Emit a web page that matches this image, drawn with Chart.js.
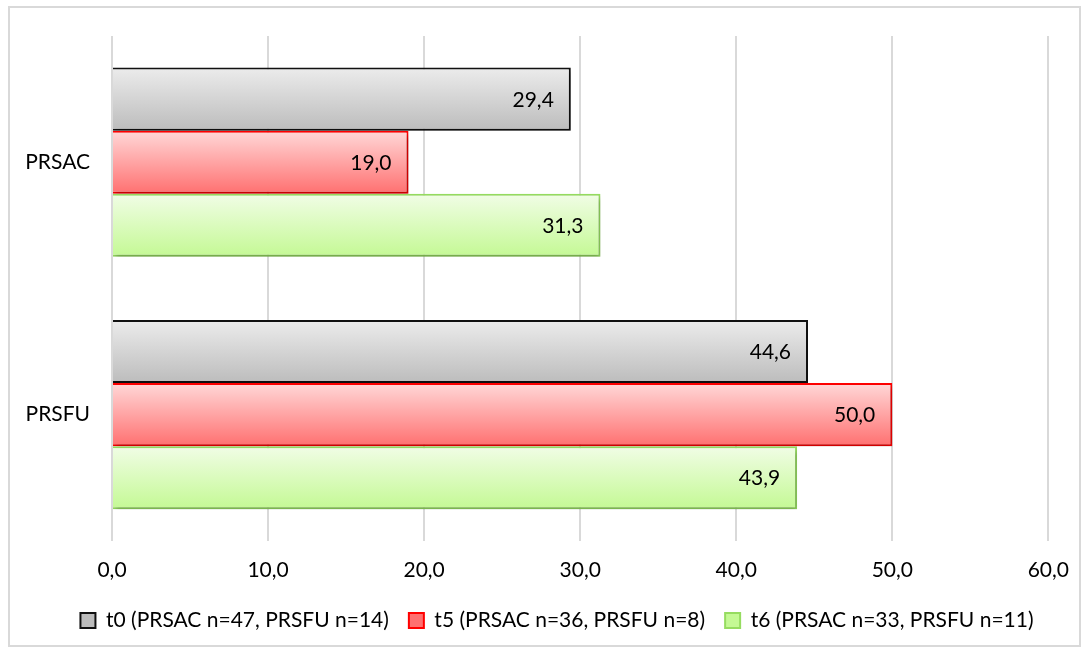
<!DOCTYPE html>
<html><head><meta charset="utf-8">
<script src="https://cdn.jsdelivr.net/npm/chart.js@4"></script>
<style>
html,body{margin:0;padding:0;background:#fff;}
#wrap{position:relative;width:1086px;height:653px;}
#frame{position:absolute;left:8px;top:6px;width:1073px;height:641px;border:2px solid #d9d9d9;box-sizing:border-box;pointer-events:none;}
canvas{display:block;}
</style></head>
<body><div id="wrap"><canvas id="c" width="1086" height="653"></canvas><div id="frame"></div></div>
<script>
const categories = ['PRSAC', 'PRSFU'];
const seriesNames = ['t0 (PRSAC n=47, PRSFU n=14)', 't5 (PRSAC n=36, PRSFU n=8)', 't6 (PRSAC n=33, PRSFU n=11)'];
const t0Values = [29.4, 44.6];
const t5Values = [19.0, 50.0];
const t6Values = [31.3, 43.9];
const xTicks = [0, 10, 20, 30, 40, 50, 60];

const FONT = 'Lato';
const FS = 21;
const fmt = v => v.toFixed(1).replace('.', ',');

function grad(top, bottom, solid) {
  return function (ctx) {
    const chart = ctx.chart;
    if (ctx.type !== 'data' || !chart.chartArea || !chart.scales.y) return solid;
    const y = chart.scales.y;
    const band = (y.bottom - y.top) / categories.length;
    const center = y.getPixelForValue(ctx.dataIndex);
    const thick = band * 0.75 / 3;
    const y0 = center - band * 0.75 / 2 + ctx.datasetIndex * thick;
    const g = chart.ctx.createLinearGradient(0, y0, 0, y0 + thick);
    g.addColorStop(0, top);
    g.addColorStop(1, bottom);
    return g;
  };
}

const shadowPlugin = {
  id: 'shadow',
  afterLayout(chart) {
    if (chart.legend) { chart.legend.left += 31; chart.legend.right += 31; }
  },
  beforeDatasetsDraw(chart) {
    const c = chart.ctx;
    c.save();
    c.shadowColor = 'rgba(0,0,0,0.28)';
    c.shadowBlur = 5;
    c.shadowOffsetX = 2;
    c.shadowOffsetY = 3;
  },
  afterDatasetsDraw(chart) {
    const c = chart.ctx;
    c.restore();
    c.save();
    c.font = FS + 'px ' + FONT;
    c.fillStyle = '#000';
    c.textAlign = 'right';
    c.textBaseline = 'middle';
    chart.data.datasets.forEach((ds, i) => {
      const meta = chart.getDatasetMeta(i);
      meta.data.forEach((el, j) => {
        c.fillText(fmt(ds.data[j]), el.x - 17, el.y + 1);
      });
    });
    c.restore();
  }
};

new Chart(document.getElementById('c'), {
  type: 'bar',
  data: {
    labels: categories,
    datasets: [
      { label: seriesNames[0], data: t0Values,
        backgroundColor: grad('#ececec', '#bcbcbc', '#d4d4d4'), borderColor: '#111', borderWidth: 2 },
      { label: seriesNames[1], data: t5Values,
        backgroundColor: grad('#ffd8d8', '#ff7070', '#ffaaaa'), borderColor: '#ff0000', borderWidth: 2 },
      { label: seriesNames[2], data: t6Values,
        backgroundColor: grad('#f1fde6', '#c4f994', '#dcfbbd'), borderColor: '#96dc60', borderWidth: 2 }
    ]
  },
  options: {
    indexAxis: 'y',
    responsive: false,
    animation: false,
    devicePixelRatio: 1,
    layout: { padding: { left: 0, right: 34, top: 36, bottom: 12 } },
    datasets: { bar: { categoryPercentage: 0.75, barPercentage: 1.0, borderSkipped: 'start' } },
    scales: {
      x: {
        min: 0, max: 60,
        afterBuildTicks: s => { s.ticks = xTicks.map(v => ({ value: v })); },
        afterFit: s => { s.height = s.height - 10; },
        grid: { color: '#d9d9d9', lineWidth: 2, drawTicks: false },
        border: { display: false },
        ticks: { padding: 17, color: '#000', font: { family: FONT, size: FS }, callback: v => fmt(v), maxRotation: 0 }
      },
      y: {
        grid: { display: false, drawTicks: false },
        border: { display: false },
        afterFit: s => { s.width = 112; },
        ticks: { padding: 22, color: '#000', font: { family: FONT, size: FS } }
      }
    },
    plugins: {
      legend: {
        position: 'bottom',
        labels: { boxWidth: 15, boxHeight: 15, padding: 20, color: '#000', font: { family: FONT, size: FS } }
      },
      tooltip: { enabled: false }
    }
  },
  plugins: [shadowPlugin]
});
</script>
</body></html>
